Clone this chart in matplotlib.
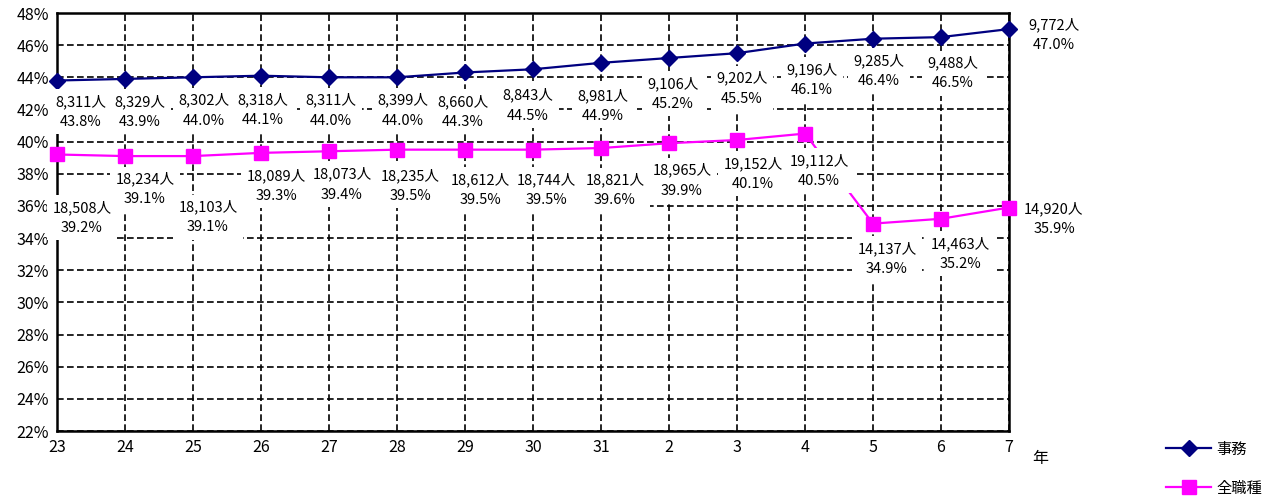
import numpy as np
import matplotlib
matplotlib.use("Agg")
from matplotlib import pyplot as plt

plt.rcParams['font.family'] = ['Noto Sans CJK JP', 'DejaVu Sans']

# 年度
years = ['23', '24', '25', '26', '27', '28', '29', '30', '31', '2', '3', '4', '5', '6', '7']

# 事務
jimu_pct = [43.8, 43.9, 44.0, 44.1, 44.0, 44.0, 44.3, 44.5, 44.9, 45.2, 45.5, 46.1, 46.4, 46.5, 47.0]
jimu_num = [8311, 8329, 8302, 8318, 8311, 8399, 8660, 8843, 8981, 9106, 9202, 9196, 9285, 9488, 9772]

# 全職種
zen_pct = [39.2, 39.1, 39.1, 39.3, 39.4, 39.5, 39.5, 39.5, 39.6, 39.9, 40.1, 40.5, 34.9, 35.2, 35.9]
zen_num = [18508, 18234, 18103, 18089, 18073, 18235, 18612, 18744, 18821, 18965, 19152, 19112, 14137, 14463, 14920]

# ラベル位置 (ピクセル, 右/下が正)
jimu_off = [(24, 31), (15, 33), (11, 33), (2, 34), (2, 33), (6, 33), (-2, 39), (-5, 36),
            (2, 43), (4, 36), (5, 35), (7, 36), (6, 32), (12, 36), (45, 6)]
zen_off = [(25, 63), (20, 33), (15, 61), (15, 33), (13, 33), (13, 36), (15, 40), (13, 40),
           (14, 42), (13, 37), (16, 34), (14, 37), (14, 35), (19, 35), (45, 11)]

fig = plt.figure(figsize=(12.68, 5.0), dpi=100)
ax = fig.add_axes([57 / 1268, 1 - 431 / 500, (1009 - 57) / 1268, (431 - 13) / 500])

x = np.arange(len(years))
ax.plot(x, jimu_pct, color='#000080', lw=1.6, marker='D', ms=8, label='事務', zorder=3, clip_on=False)
ax.plot(x, zen_pct, color='#FF00FF', lw=1.6, marker='s', ms=10, label='全職種', zorder=3, clip_on=False)

px = 72 / 100
for i in range(len(x)):
    dx, dy = jimu_off[i]
    ax.annotate(f'{jimu_num[i]:,}人\n{jimu_pct[i]:.1f}%', (x[i], jimu_pct[i]),
                xytext=(dx * px, -dy * px), textcoords='offset points',
                ha='center', va='center', fontsize=10.5, linespacing=1.55, zorder=4,
                bbox=dict(boxstyle='square,pad=0.35', fc='white', ec='none'))
    dx, dy = zen_off[i]
    ax.annotate(f'{zen_num[i]:,}人\n{zen_pct[i]:.1f}%', (x[i], zen_pct[i]),
                xytext=(dx * px, -dy * px), textcoords='offset points',
                ha='center', va='center', fontsize=10.5, linespacing=1.55, zorder=4,
                bbox=dict(boxstyle='square,pad=0.35', fc='white', ec='none'))

ax.set_xlim(0, len(years) - 1)
ax.set_ylim(22, 48)
ax.set_xticks(x)
ax.set_xticklabels(years)
ax.set_yticks(np.arange(22, 49, 2))
ax.set_yticklabels([f'{v}%' for v in range(22, 49, 2)])
ax.tick_params(length=0, labelsize=11.5, pad=6)
ax.grid(True, color='black', linestyle=(0, (4, 2)), lw=1.2, zorder=1)
ax.set_axisbelow(True)
for s in ax.spines.values():
    s.set_linewidth(1.8)
    s.set_color('black')

fig.text(1040 / 1268, 1 - 458 / 500, '年', fontsize=11.5, ha='center', va='center')

fig.legend(loc='upper left', bbox_to_anchor=(1158 / 1268, 1 - 433 / 500), frameon=False,
           fontsize=11, handlelength=3.0, labelspacing=1.45, handletextpad=0.3, borderpad=0)

fig.savefig('out.png', dpi=100)
